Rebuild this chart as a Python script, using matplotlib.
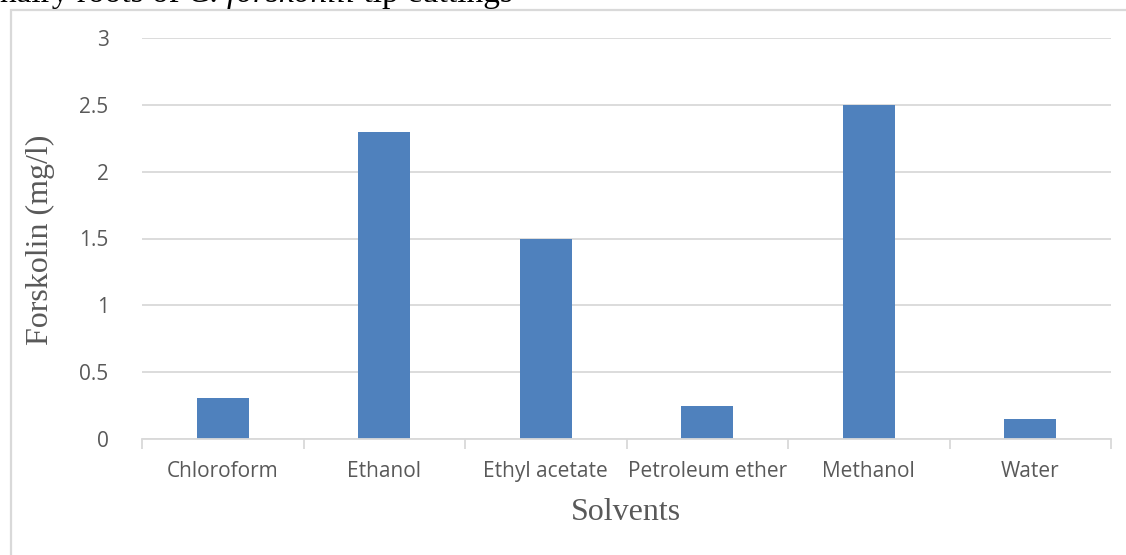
import matplotlib
matplotlib.use('Agg')
import matplotlib.pyplot as plt
from matplotlib.patches import Rectangle

# 数据
solvents = ['Chloroform', 'Ethanol', 'Ethyl acetate', 'Petroleum ether', 'Methanol', 'Water']
forskolin = [0.31, 2.3, 1.5, 0.25, 2.5, 0.15]
y_ticks = [0, 0.5, 1, 1.5, 2, 2.5, 3]
y_tick_labels = ['0', '0.5', '1', '1.5', '2', '2.5', '3']

W, H = 1126, 555
fig = plt.figure(figsize=(W / 100, H / 100), dpi=100)
fig.patch.set_facecolor('white')

# 图框
fig.patches.append(Rectangle((11 / W, -0.1), 1.2, (H - 10) / H + 0.1, transform=fig.transFigure,
                             fill=False, edgecolor='#d9d9d9', linewidth=1.6))

ax = fig.add_axes([142 / W, (H - 439) / H, 969 / W, 401 / H])
x = list(range(len(solvents)))
ax.bar(x, forskolin, width=0.32, color='#4f81bd', zorder=3)
ax.set_xlim(-0.5, len(solvents) - 0.5)
ax.set_ylim(0, 3)
ax.set_yticks(y_ticks)
ax.set_yticklabels(y_tick_labels, fontsize=15, color='#595959', family='Open Sans')
ax.yaxis.grid(True, color='#d9d9d9', linewidth=1.3, zorder=0)
ax.tick_params(axis='y', length=0, pad=24)

ax.set_xticks(x)
ax.set_xticklabels(solvents, fontsize=15, color='#595959', family='Open Sans')
ax.tick_params(axis='x', length=0, pad=16)
ax.set_xticks([i - 0.5 for i in range(len(solvents) + 1)], minor=True)
ax.tick_params(axis='x', which='minor', length=7, width=1.3, color='#d9d9d9')

for s in ['top', 'right', 'left']:
    ax.spines[s].set_visible(False)
ax.spines['bottom'].set_color('#d9d9d9')
ax.spines['bottom'].set_linewidth(1.3)
ax.spines['bottom'].set_zorder(4)

fig.text(40 / W, 1 - 240 / H, 'Forskolin (mg/l)', rotation=90, ha='center', va='center',
         fontsize=23, color='#595959', family='Liberation Serif')
fig.text(626 / W, 1 - 513 / H, 'Solvents', ha='center', va='center',
         fontsize=23, color='#595959', family='Liberation Serif')

# 顶部被截断的标题（原图即如此）
fig.canvas.draw()
r = fig.canvas.get_renderer()
xpos = 0
for part, style in [('hairy roots of ', 'normal'), ('C. forskohlii', 'italic'), (' tip cuttings', 'normal')]:
    t = fig.text(xpos / W, 1 - 2 / H, part, ha='left', va='baseline', fontsize=24,
                 family='Liberation Serif', style=style, color='black')
    xpos += t.get_window_extent(r).width

fig.savefig('out.png', dpi=100)
